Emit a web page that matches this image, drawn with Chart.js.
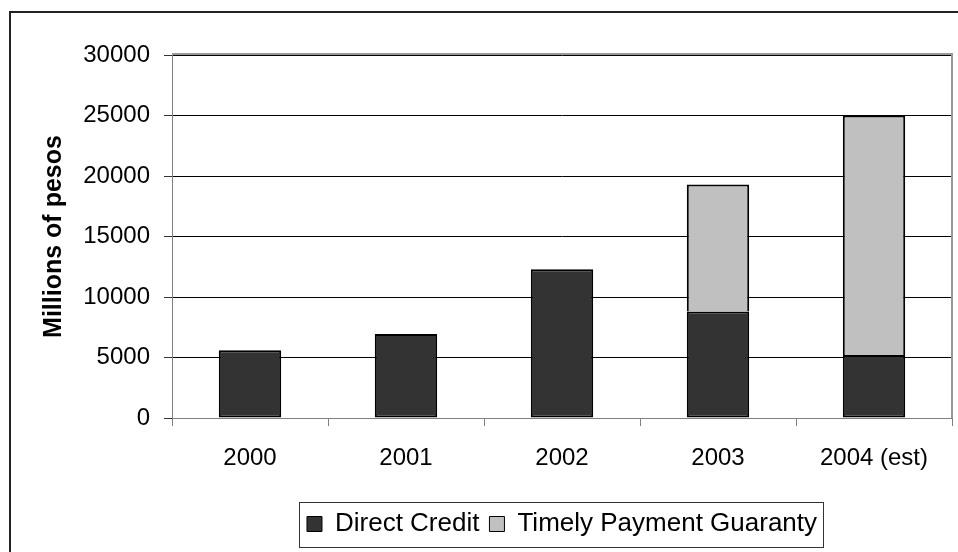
<!DOCTYPE html>
<html>
<head>
<meta charset="utf-8">
<script src="https://cdn.jsdelivr.net/npm/chart.js@4.4.1/dist/chart.umd.min.js"></script>
<style>
  html, body { margin: 0; padding: 0; background: #fff; }
  #wrap { width: 958px; height: 552px; position: relative; }
</style>
</head>
<body>
<div id="wrap"><canvas id="chart" width="958" height="552"></canvas></div>
<script>
// Datos
const years = ['2000', '2001', '2002', '2003', '2004 (est)'];
const directCredit = [5600, 6950, 12300, 8800, 5200];
const timelyPayment = [null, null, null, 10500, 19800];
const yTicks = [0, 5000, 10000, 15000, 20000, 25000, 30000];

Chart.defaults.font.family = "'Liberation Sans', Arial, Helvetica, sans-serif";
Chart.defaults.color = '#000';

// marco exterior, borde del área de trazado y caja de la leyenda
const framePlugin = {
    id: 'frame',
    beforeDraw(chart) {
        const ctx = chart.ctx;
        ctx.save();
        ctx.fillStyle = '#fff';
        ctx.fillRect(0, 0, chart.width, chart.height);
        ctx.strokeStyle = '#222';
        ctx.lineWidth = 2;
        ctx.strokeRect(10, 12, chart.width + 20, chart.height + 20);
        ctx.restore();
    },
    beforeDatasetsDraw(chart) {
        const a = chart.chartArea;
        const ctx = chart.ctx;
        ctx.save();
        ctx.strokeStyle = '#999';
        ctx.lineWidth = 2;
        ctx.beginPath();
        ctx.moveTo(a.left, a.top - 1);
        ctx.lineTo(a.right, a.top - 1);
        ctx.lineTo(a.right, a.bottom);
        ctx.stroke();
        ctx.restore();
    },
    afterDraw(chart) {
        const boxes = chart.legend.legendHitBoxes;
        if (!boxes || !boxes.length) return;
        let l = Infinity, r = -Infinity, t = Infinity, b = -Infinity;
        boxes.forEach(h => {
            l = Math.min(l, h.left); r = Math.max(r, h.left + h.width);
            t = Math.min(t, h.top); b = Math.max(b, h.top + h.height);
        });
        const ctx = chart.ctx;
        ctx.save();
        ctx.strokeStyle = '#333';
        ctx.lineWidth = 1;
        ctx.strokeRect(Math.round(l - 8) + 0.5, Math.round(t - 9) + 0.5, Math.round(r - l + 14), Math.round(b - t + 19));
        ctx.restore();
    }
};

const ctx = document.getElementById('chart').getContext('2d');
new Chart(ctx, {
    type: 'bar',
    data: {
        labels: years,
        datasets: [{
            label: 'Direct Credit',
            data: directCredit,
            backgroundColor: '#333333',
            borderColor: '#000',
            borderWidth: 2,
            borderSkipped: false,
            categoryPercentage: 1,
            barPercentage: 0.4
        }, {
            label: 'Timely Payment Guaranty',
            data: timelyPayment,
            backgroundColor: '#c0c0c0',
            borderColor: '#000',
            borderWidth: 2,
            borderSkipped: 'start',
            categoryPercentage: 1,
            barPercentage: 0.4
        }]
    },
    options: {
        responsive: false,
        animation: false,
        devicePixelRatio: 1,
        layout: {
            padding: { left: 0, top: 55, right: 6, bottom: 5 }
        },
        plugins: {
            legend: {
                position: 'bottom',
                fullSize: false,
                labels: {
                    boxWidth: 15,
                    boxHeight: 15,
                    padding: 10,
                    color: '#000',
                    font: { size: 26 },
                    generateLabels(chart) {
                        return chart.data.datasets.map((ds, i) => ({
                            text: ds.label,
                            fillStyle: ds.backgroundColor,
                            strokeStyle: '#000',
                            lineWidth: 1,
                            datasetIndex: i
                        }));
                    }
                }
            },
            tooltip: { enabled: false }
        },
        scales: {
            x: {
                stacked: true,
                offset: true,
                afterFit(scale) { scale.height = 83; },
                grid: {
                    offset: true,
                    drawOnChartArea: false,
                    tickLength: 8,
                    tickColor: '#808080'
                },
                border: { color: '#808080', width: 1 },
                ticks: {
                    padding: 18,
                    font: { size: 24 },
                    color: '#000',
                    maxRotation: 0
                }
            },
            y: {
                stacked: true,
                min: 0,
                max: 30000,
                afterFit(scale) { scale.width = 172; },
                afterBuildTicks(scale) {
                    scale.ticks = yTicks.map(v => ({ value: v }));
                },
                grid: {
                    color: '#000',
                    lineWidth: 1,
                    tickLength: 8,
                    tickColor: '#333'
                },
                border: { color: '#808080', width: 1 },
                ticks: {
                    padding: 14,
                    font: { size: 24 },
                    color: '#000',
                    callback: v => String(v)
                },
                title: {
                    display: true,
                    text: 'Millions of pesos',
                    font: { size: 25, weight: 'bold' },
                    color: '#000',
                    padding: { top: 39, bottom: 0 }
                }
            }
        }
    },
    plugins: [framePlugin]
});
</script>
</body>
</html>
